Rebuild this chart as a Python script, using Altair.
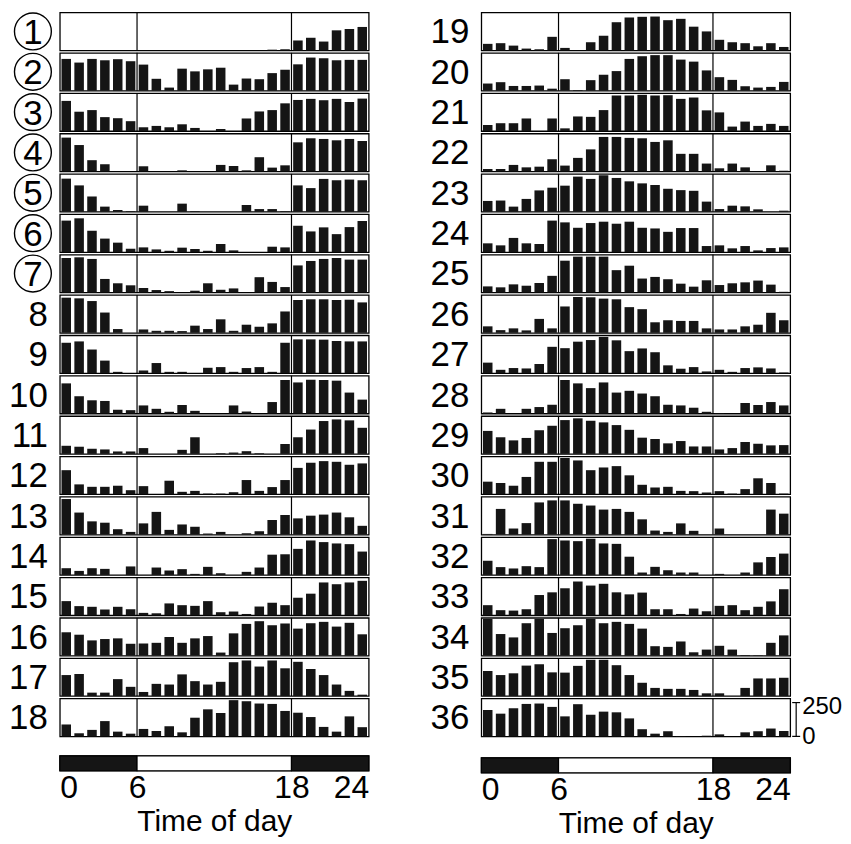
import altair as alt
import pandas as pd

hours = list(range(24))
labels = [str(i) for i in range(1, 37)]
circled = [True] * 7 + [False] * 29

r01 = [0, 0, 0, 0, 0, 0, 0, 0, 0, 0, 0, 0, 0, 0, 0, 0, 5, 8, 73, 93, 65, 148, 158, 173]
r02 = [235, 208, 235, 225, 233, 218, 193, 88, 23, 163, 143, 158, 170, 45, 90, 85, 130, 155, 195, 245, 240, 225, 228, 228]
r03 = [223, 143, 155, 103, 95, 73, 28, 38, 28, 50, 23, 0, 15, 0, 93, 145, 155, 205, 230, 238, 228, 238, 215, 240]
r04 = [250, 195, 83, 53, 0, 0, 38, 0, 0, 8, 0, 0, 48, 40, 8, 105, 28, 45, 215, 245, 240, 230, 240, 225]
r05 = [245, 195, 113, 38, 13, 5, 45, 0, 0, 60, 5, 0, 0, 0, 50, 20, 20, 5, 195, 175, 243, 233, 238, 233]
r06 = [233, 250, 158, 100, 70, 25, 35, 20, 10, 33, 23, 10, 60, 13, 0, 0, 40, 35, 195, 153, 183, 133, 185, 230]
r07 = [255, 260, 248, 100, 68, 53, 33, 18, 10, 0, 13, 68, 20, 30, 0, 113, 78, 40, 200, 233, 248, 255, 243, 243]
r08 = [260, 255, 235, 150, 28, 0, 25, 15, 15, 13, 53, 28, 100, 15, 60, 45, 70, 158, 243, 248, 248, 243, 245, 225]
r09 = [225, 235, 175, 93, 10, 0, 20, 75, 10, 10, 0, 40, 45, 10, 38, 45, 10, 225, 250, 250, 248, 238, 235, 235]
r10 = [223, 128, 98, 93, 28, 25, 60, 35, 13, 63, 20, 0, 0, 60, 15, 0, 85, 248, 230, 250, 248, 243, 155, 103]
r11 = [60, 53, 38, 33, 18, 18, 43, 0, 0, 30, 123, 0, 5, 10, 20, 5, 0, 73, 123, 180, 243, 255, 248, 193]
r12 = [178, 73, 55, 55, 63, 30, 60, 0, 100, 18, 25, 5, 5, 15, 105, 25, 53, 105, 195, 233, 245, 240, 218, 228]
r13 = [263, 163, 98, 88, 40, 20, 83, 168, 35, 75, 58, 8, 20, 0, 10, 25, 108, 145, 120, 140, 148, 163, 128, 65]
r14 = [50, 30, 50, 45, 0, 63, 0, 55, 33, 43, 8, 60, 13, 0, 23, 55, 150, 153, 193, 255, 243, 233, 228, 173]
r15 = [105, 68, 63, 43, 63, 45, 18, 15, 88, 75, 70, 105, 23, 28, 10, 65, 93, 75, 130, 160, 243, 230, 243, 255]
r16 = [173, 155, 113, 123, 128, 88, 90, 95, 138, 95, 128, 145, 23, 165, 235, 255, 225, 238, 200, 240, 250, 215, 243, 158]
r17 = [155, 163, 25, 25, 125, 68, 30, 90, 85, 160, 110, 85, 105, 250, 263, 218, 263, 205, 253, 200, 155, 85, 38, 10]
r18 = [88, 23, 48, 113, 35, 20, 55, 40, 75, 30, 138, 200, 173, 268, 260, 243, 240, 188, 175, 143, 70, 35, 148, 68]
r19 = [48, 53, 35, 13, 8, 100, 18, 0, 60, 108, 208, 243, 248, 250, 223, 233, 175, 140, 78, 60, 53, 30, 53, 25]
r20 = [53, 63, 35, 35, 38, 15, 85, 5, 78, 118, 145, 235, 255, 263, 263, 230, 215, 150, 100, 80, 33, 23, 28, 65]
r21 = [45, 58, 58, 93, 0, 93, 20, 108, 105, 155, 263, 263, 268, 263, 265, 238, 248, 153, 138, 33, 70, 38, 53, 38]
r22 = [18, 18, 48, 30, 35, 90, 43, 100, 163, 255, 255, 248, 245, 218, 230, 130, 130, 58, 23, 58, 30, 0, 45, 5]
r23 = [80, 83, 38, 95, 158, 178, 193, 260, 243, 270, 250, 225, 210, 198, 170, 160, 155, 75, 20, 45, 40, 18, 0, 8]
r24 = [65, 50, 105, 65, 60, 233, 220, 180, 215, 225, 210, 225, 180, 175, 150, 178, 178, 45, 50, 28, 45, 13, 30, 35]
r25 = [45, 38, 60, 50, 70, 123, 235, 265, 265, 265, 165, 198, 103, 115, 98, 65, 43, 90, 55, 68, 75, 88, 58, 5]
r26 = [48, 20, 33, 18, 103, 33, 195, 265, 263, 253, 248, 190, 175, 78, 93, 88, 88, 33, 25, 25, 48, 60, 148, 93]
r27 = [78, 25, 38, 35, 68, 195, 185, 233, 245, 268, 243, 163, 183, 155, 58, 33, 45, 13, 25, 10, 38, 43, 35, 5]
r28 = [8, 35, 0, 35, 48, 65, 248, 223, 188, 230, 155, 168, 148, 128, 65, 60, 43, 13, 3, 0, 78, 63, 85, 60]
r29 = [170, 123, 100, 118, 175, 208, 250, 263, 245, 233, 213, 178, 120, 110, 78, 95, 55, 55, 33, 43, 88, 75, 63, 65]
r30 = [93, 83, 63, 128, 240, 240, 268, 250, 178, 198, 208, 140, 70, 50, 55, 25, 23, 13, 23, 5, 38, 118, 83, 5]
r31 = [5, 190, 45, 85, 238, 253, 253, 228, 215, 185, 190, 168, 113, 30, 20, 83, 28, 0, 45, 0, 0, 0, 185, 155]
r32 = [105, 58, 48, 65, 58, 265, 255, 250, 268, 233, 230, 135, 18, 60, 35, 18, 18, 0, 8, 0, 18, 93, 133, 158]
r33 = [75, 38, 35, 45, 150, 170, 200, 250, 220, 233, 170, 155, 168, 45, 45, 10, 50, 30, 70, 75, 38, 63, 103, 193]
r34 = [272, 160, 135, 240, 272, 168, 203, 225, 272, 240, 250, 235, 200, 70, 65, 105, 25, 45, 73, 45, 5, 3, 95, 150]
r35 = [185, 155, 168, 225, 235, 175, 173, 223, 268, 268, 228, 155, 98, 60, 53, 53, 45, 20, 20, 0, 60, 130, 130, 135]
r36 = [195, 168, 208, 240, 243, 218, 148, 238, 160, 183, 178, 133, 53, 20, 38, 3, 0, 5, 15, 0, 30, 38, 58, 40]

series = [r01, r02, r03, r04, r05, r06, r07, r08, r09, r10, r11, r12,
          r13, r14, r15, r16, r17, r18, r19, r20, r21, r22, r23, r24,
          r25, r26, r27, r28, r29, r30, r31, r32, r33, r34, r35, r36]

day_edges = [6, 18]
light_start = [0, 6, 18]
light_end = [6, 18, 24]
light_shade = ["dark", "light", "dark"]
tick_values = [0, 6, 18, 24]
scale_top = 250

W, H = 310, 38
SANS = "'Liberation Sans', Arial, sans-serif"
INK = "#151515"

xs = alt.Scale(domain=[0, 24], nice=False, zero=False)
ys = alt.Scale(domain=[0, 280], nice=False)


def column_frame(c):
    recs = []
    for i in range(18):
        k = c * 18 + i
        for h, v in zip(hours, series[k]):
            recs.append(dict(idx=i, label=labels[k], circled=circled[k], last=k == 35,
                             hour=h, count=v))
    return pd.DataFrame(recs)


def column(c, gap):
    df = column_frame(c)
    base = alt.Chart()
    bars = base.mark_rect(color=INK).transform_calculate(
        x0="datum.hour + 0.13", x1="datum.hour + 0.87"
    ).encode(
        x=alt.X("x0:Q", scale=xs, axis=None),
        x2="x1:Q",
        y=alt.Y("count:Q", scale=ys, axis=None),
        y2=alt.datum(0),
    )
    edges = base.mark_rule(color="black", strokeWidth=1.2).transform_filter(
        f"indexof({day_edges}, datum.hour) >= 0"
    ).encode(x=alt.X("hour:Q", scale=xs))
    first_c = base.transform_filter("datum.hour == 0 && datum.circled")
    ring = first_c.mark_point(shape="circle", filled=False, size=1369, color="black",
                              strokeWidth=1.4, opacity=1).encode(
        x=alt.value(-27), y=alt.value(H / 2))
    lab_c = first_c.mark_text(align="center", baseline="middle", font=SANS, fontSize=35,
                              color="black").encode(
        x=alt.value(-27), y=alt.value(H / 2 + 1.5), text="label:N")
    lab_n = base.mark_text(align="right", baseline="middle", font=SANS, fontSize=35,
                           color="black").transform_filter(
        "datum.hour == 0 && !datum.circled"
    ).encode(x=alt.value(-12), y=alt.value(H / 2 + 1), text="label:N")
    layers = [bars, edges, ring, lab_c, lab_n]
    if c == 1:
        sb = base.transform_filter("datum.hour == 0 && datum.last")
        layers += [
            sb.mark_rule(color="black", strokeWidth=1.2).encode(
                x=alt.value(W + 6), y=alt.datum(0), y2=alt.datum(scale_top)),
            sb.mark_rule(color="black", strokeWidth=1.2).encode(
                x=alt.value(W + 2), x2=alt.value(W + 10), y=alt.datum(scale_top)),
            sb.mark_rule(color="black", strokeWidth=1.2).encode(
                x=alt.value(W + 2), x2=alt.value(W + 10), y=alt.datum(0)),
            sb.mark_text(text=str(scale_top), align="left", baseline="middle", font=SANS,
                         fontSize=24, dy=4, color="black").encode(
                x=alt.value(W + 12), y=alt.datum(scale_top)),
            sb.mark_text(text="0", align="left", baseline="middle", font=SANS,
                         fontSize=24, dy=1, color="black").encode(
                x=alt.value(W + 12), y=alt.datum(0)),
        ]
    panels = alt.layer(*layers, data=df).properties(width=W, height=H).facet(
        row=alt.Row("idx:O", header=None), spacing=2.5, bounds="flush"
    )
    bar_df = pd.DataFrame(dict(start=light_start, end=light_end, shade=light_shade))
    lightbar = alt.Chart(bar_df).mark_rect(stroke="black", strokeWidth=1.2).encode(
        x=alt.X("start:Q", scale=xs,
                axis=alt.Axis(values=tick_values, ticks=False, domain=False, grid=False,
                              labelFontSize=32, labelFont=SANS, labelPadding=2,
                              labelColor="black", title="Time of day", titleFontSize=30,
                              titleFont=SANS, titleFontWeight="normal", titlePadding=3,
                              titleColor="black")),
        x2="end:Q",
        color=alt.Color("shade:N", scale=alt.Scale(domain=["dark", "light"],
                                                   range=[INK, "white"]), legend=None),
    ).properties(width=W, height=15)
    return alt.vconcat(panels, lightbar, spacing=gap)


chart = alt.hconcat(column(0, 16), column(1, 5), spacing=59).configure_view(
    stroke="black", strokeWidth=1.3
).properties(padding={"left": 0, "top": 0, "right": 0, "bottom": 0})

chart.save("out.html", embed_options={"renderer": "svg", "actions": False})
